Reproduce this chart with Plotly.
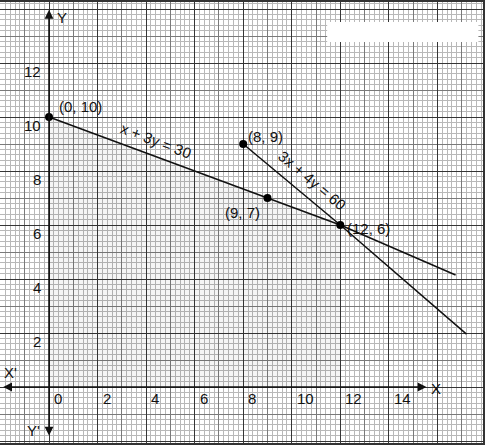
import plotly.graph_objects as go

# ---------------- data ----------------
x_tick_values = [0, 2, 4, 6, 8, 10, 12, 14]
y_tick_values = [2, 4, 6, 8, 10, 12]

line1_x = [0, 9, 12, 16.75]          # x + 3y = 30
line1_y = [10, 7, 6, 4.15]
line2_x = [8, 12, 17.2]              # 3x + 4y = 60
line2_y = [9, 6, 1.96]

point_x = [0, 8, 9, 12]
point_y = [10, 9, 7, 6]
point_labels = ["(0, 10)", "(8, 9)", "(9, 7)", "(12, 6)"]

shade_x = [0, 0, 9, 12, 12]
shade_y = [0, 10, 7, 6, 0]

eq_labels = ["x + 3y = 30", "3x + 4y = 60"]
eq_x = [4.4, 10.85]
eq_y = [9.14, 7.65]

# ---------------- styling / placement ----------------
X_RANGE = [-2.02, 17.88]
Y_RANGE = [-2.074, 14.26]
FONT = "Liberation Sans, Arial, sans-serif"
INK = "#111111"
label_shift = [(31, 11), (22, 8), (-25, -14), (28, -3)]
eq_angle = [21, 40]

fig = go.Figure()

# shaded region
fig.add_trace(go.Scatter(x=shade_x, y=shade_y, fill="toself", mode="lines",
                         line=dict(width=0), fillcolor="rgba(0,0,0,0.04)",
                         hoverinfo="skip", showlegend=False))
# lines
fig.add_trace(go.Scatter(x=line1_x, y=line1_y, mode="lines",
                         line=dict(color=INK, width=1.5), showlegend=False))
fig.add_trace(go.Scatter(x=line2_x, y=line2_y, mode="lines",
                         line=dict(color=INK, width=1.5), showlegend=False))
# points
fig.add_trace(go.Scatter(x=point_x, y=point_y, mode="markers",
                         marker=dict(color="#000", size=8), showlegend=False))
# dummy trace for overlay (heavy) grid axes
fig.add_trace(go.Scatter(x=[None], y=[None], xaxis="x2", yaxis="y2",
                         showlegend=False, hoverinfo="skip"))

ann = []
for px, py, lab, (dx, dy) in zip(point_x, point_y, point_labels, label_shift):
    ann.append(dict(x=px, y=py, text=lab, showarrow=False, xshift=dx, yshift=dy,
                    font=dict(family=FONT, size=15, color=INK)))
for ex, ey, lab, ang in zip(eq_x, eq_y, eq_labels, eq_angle):
    ann.append(dict(x=ex, y=ey, text=lab, showarrow=False, textangle=ang,
                    font=dict(family=FONT, size=15, color=INK)))
for v in x_tick_values:
    ann.append(dict(x=v, y=0, text=str(v), showarrow=False, xanchor="left",
                    xshift=3, yshift=-11, font=dict(family=FONT, size=15, color=INK)))
for v in y_tick_values:
    ann.append(dict(x=0, y=v, text=str(v), showarrow=False, xanchor="right",
                    xshift=-6, yshift=-8.5, font=dict(family=FONT, size=15, color=INK)))

# axes with arrows
ann.append(dict(x=15.55, y=0, ax=-1.95, ay=0, axref="x", ayref="y", text="",
                showarrow=True, arrowside="end+start", arrowhead=2, startarrowhead=2,
                arrowsize=1.1, startarrowsize=1.1, arrowwidth=1.6, arrowcolor="#111"))
ann.append(dict(x=0, y=13.97, ax=0, ay=-1.85, axref="x", ayref="y", text="",
                showarrow=True, arrowside="end+start", arrowhead=2, startarrowhead=2,
                arrowsize=1.1, startarrowsize=1.1, arrowwidth=1.6, arrowcolor="#111"))
for tx, ty, t in [(15.96, -0.05, "X"), (-1.6, 0.55, "X'"), (0.55, 13.67, "Y"), (-0.66, -1.6, "Y'")]:
    ann.append(dict(x=tx, y=ty, text=t, showarrow=False,
                    font=dict(family=FONT, size=15, color=INK)))

grid_common = dict(showticklabels=False, ticks="", zeroline=False)

fig.update_layout(
    width=488, height=447,
    margin=dict(l=0, r=5, t=2, b=4),
    paper_bgcolor="white", plot_bgcolor="white",
    showlegend=False,
    xaxis=dict(range=X_RANGE, tick0=0, dtick=1, showgrid=True, gridcolor="#7a7a7a",
               gridwidth=1, minor=dict(tick0=0, dtick=0.2, showgrid=True,
                                       gridcolor="#b8b8b8", gridwidth=1),
               showline=True, mirror=True, linecolor="#333", linewidth=1.5,
               **grid_common),
    yaxis=dict(range=Y_RANGE, tick0=0, dtick=1, showgrid=True, gridcolor="#7a7a7a",
               gridwidth=1, minor=dict(tick0=0, dtick=0.2, showgrid=True,
                                       gridcolor="#b8b8b8", gridwidth=1),
               showline=True, mirror=True, linecolor="#333", linewidth=1.5,
               **grid_common),
    xaxis2=dict(range=X_RANGE, overlaying="x", anchor="y2", tick0=0, dtick=2,
                showgrid=True, gridcolor="#353535", gridwidth=1.2, **grid_common),
    yaxis2=dict(range=Y_RANGE, overlaying="y", anchor="x2", tick0=0, dtick=2,
                showgrid=True, gridcolor="#353535", gridwidth=1.2, **grid_common),
    annotations=ann,
    shapes=[dict(type="rect", xref="x", yref="y", x0=11.46, x1=17.69, y0=12.78, y1=13.52,
                 fillcolor="white", line=dict(width=0), layer="above")],
)

fig.write_html("out.html", config={"displayModeBar": False},
               post_script="document.body.style.margin='0';document.body.style.overflow='hidden';")
